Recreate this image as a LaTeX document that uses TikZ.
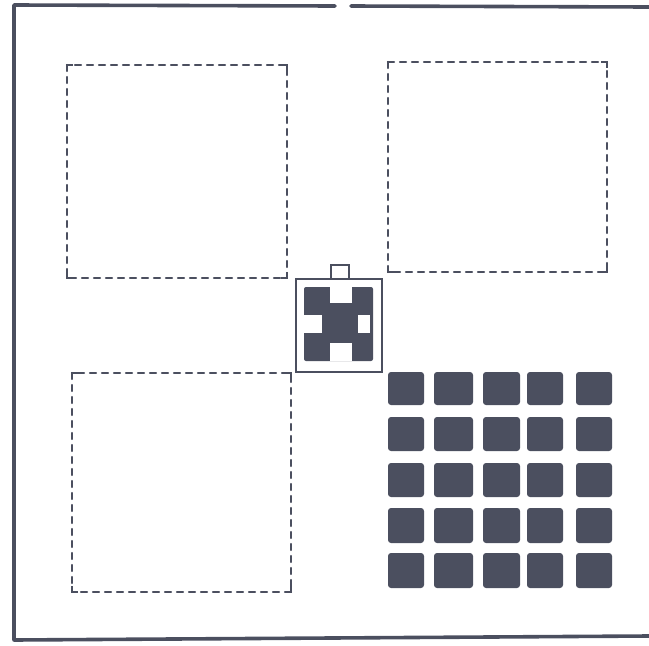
\documentclass[tikz,border=0pt]{standalone}
\begin{document}
\begin{tikzpicture}[x=1pt,y=-1pt,
  ink/.style={draw=inkc, line width=3.6pt, line cap=round, line join=round},
  plot/.style={draw=inkc, line width=2.2pt, dash pattern=on 6pt off 6pt, line cap=round},
  corner/.style={draw=inkc, line width=2.6pt, line join=miter},
  tile/.style={fill=inkc, rounded corners=3pt}]
\definecolor{inkc}{HTML}{4B4F5F}
\useasboundingbox (0,0) rectangle (649,646);
% outer frame
\draw[ink] (335,6) -- (14,5) -- (14,640) -- (649,636);
\draw[ink] (351,6) -- (649,7);
% dashed plots
\foreach \xa/\ya/\xb/\yb in {67/65/287/278, 388/62/607/272, 72/373/291/592}{
  \draw[plot] (\xa,\ya) rectangle (\xb,\yb);
  \draw[corner] (\xa,\ya+6) -- (\xa,\ya) -- (\xa+6,\ya);
  \draw[corner] (\xb-6,\ya) -- (\xb,\ya) -- (\xb,\ya+6);
  \draw[corner] (\xb,\yb-6) -- (\xb,\yb) -- (\xb-6,\yb);
  \draw[corner] (\xa+6,\yb) -- (\xa,\yb) -- (\xa,\yb-6);
}
% central element
\draw[draw=inkc, line width=2.2pt, fill=white] (331,265) rectangle (349,279);
\draw[draw=inkc, line width=2.6pt, fill=white] (296,279) rectangle (382,372);
\fill[inkc, rounded corners=2pt] (304,287) rectangle (373,361);
\fill[white] (330,287) rectangle (352,303);
\fill[white] (330,343) rectangle (352,361);
\fill[white] (304,315) rectangle (322,333);
\fill[white] (358,315) rectangle (370,333);
% grid of tiles
\foreach \x/\w in {388/36, 434/39, 483/37, 527/36, 576/36}{
  \foreach \y/\h in {372/33, 417/34, 463/34, 508/35, 553/35}{
    \fill[tile] (\x,\y) rectangle ++(\w,\h);
  }
}
\end{tikzpicture}
\end{document}
